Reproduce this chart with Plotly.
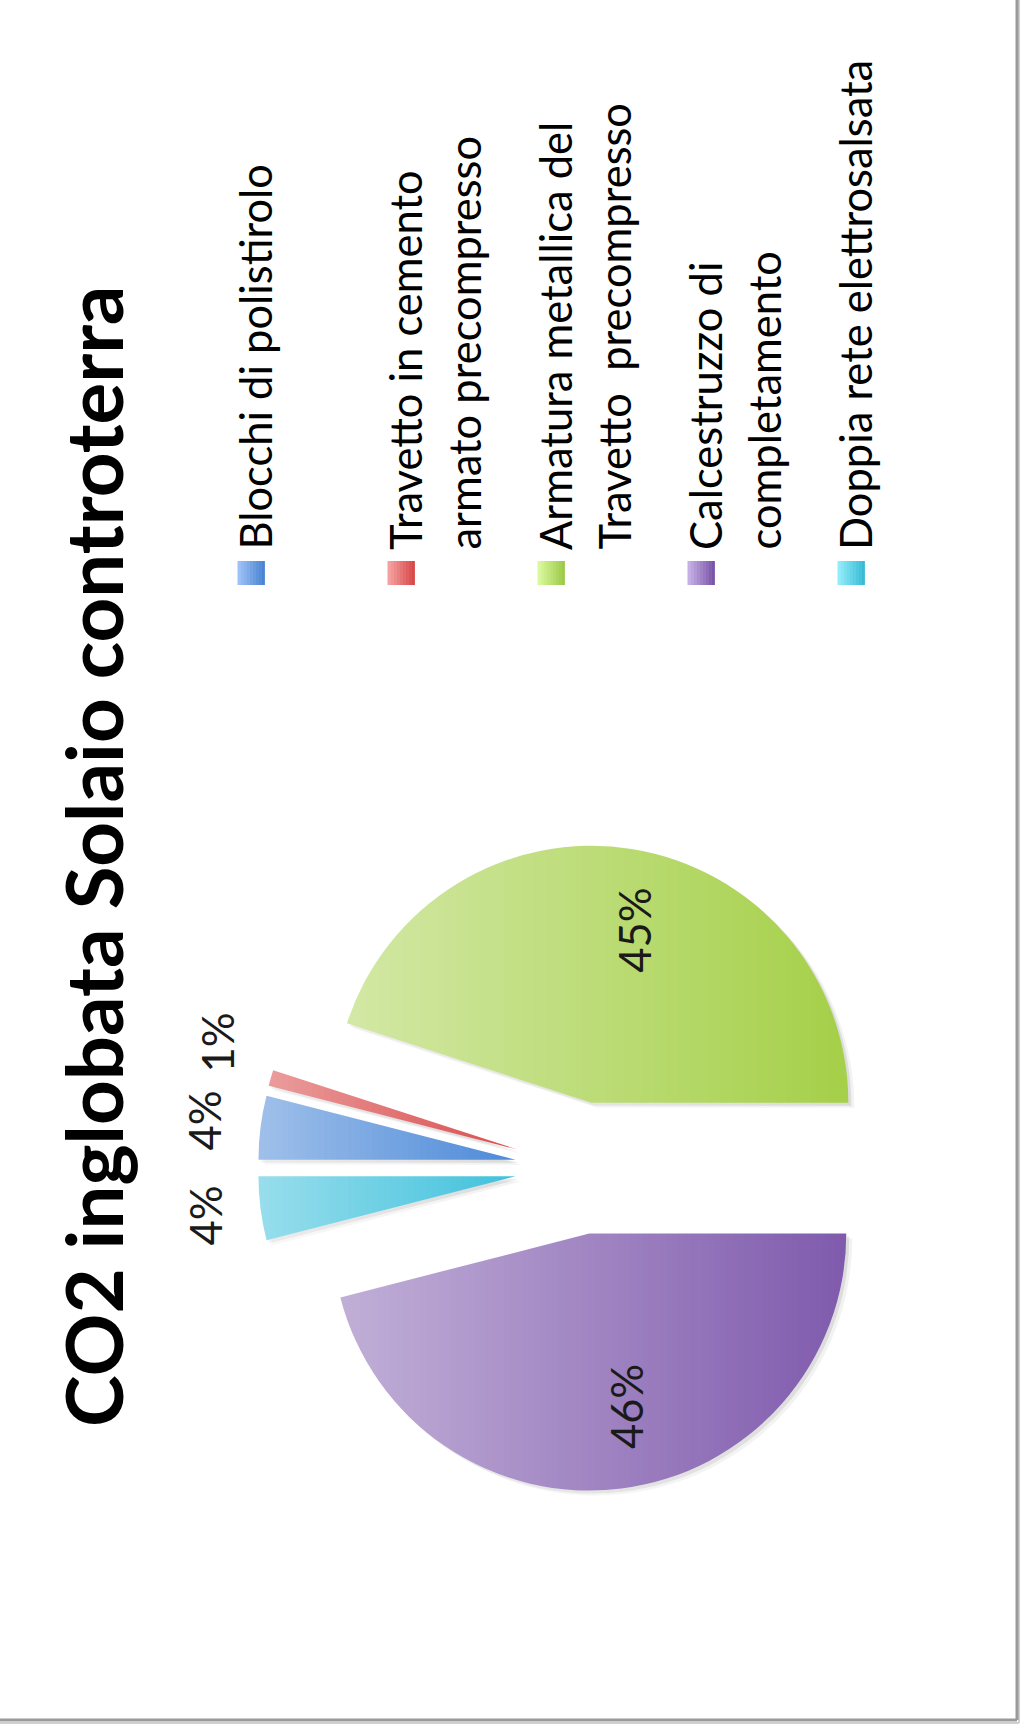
import math
import plotly.graph_objects as go

# --- data -------------------------------------------------------------
categories = [
    "Blocchi di polistirolo",
    "Travetto in cemento<br>armato precompresso",
    "Armatura metallica del<br>Travetto\u00a0 precompresso",
    "Calcestruzzo di<br>completamento",
    "Doppia rete elettrosalsata",
]
values = [4, 1, 45, 46, 4]
# slice colours (shaded end); a white sheen lightens their left side
colors = ["#4c89d8", "#da4c4c", "#a5d048", "#7f5aad", "#3fc1dc"]
# light / dark ends used for the legend swatch shading
colors_light = ["#9cc0f7", "#f5a0a0", "#daf99c", "#c5afe6", "#90ecfa"]
colors_dark = ["#4a84d2", "#d84848", "#9cca4a", "#7a56a8", "#38bcd6"]
title_text = "CO2 inglobata Solaio controterra"

# --- page geometry (pixels) --------------------------------------------
W, H = 1025, 1732
FONT = "Lato"
TEXT_SIZE = 43.5


def fx(px):
    return px / W


def fy(py):
    return 1 - py / H


def mix(c1, c2, t):
    a = [int(c1[i:i + 2], 16) for i in (1, 3, 5)]
    b = [int(c2[i:i + 2], 16) for i in (1, 3, 5)]
    return "#" + "".join(f"{round(x + (y - x) * t):02x}" for x, y in zip(a, b))


CX, CY = 581, 1168        # pie centre
R = 257                   # pie radius
PULL = 0.257              # explode fraction
ROT = 270                 # first slice starts at 9 o'clock
HB = R * (1 + PULL)


def pie_domain(dx=0, dy=0):
    return dict(x=[fx(CX - HB + dx), fx(CX + HB + dx)],
                y=[fy(CY + HB + dy), fy(CY - HB + dy)])


fig = go.Figure()

# soft drop shadow under the slices
for (dx, dy, a) in [(6, 5, 0.05), (3, 3, 0.09)]:
    fig.add_trace(go.Pie(
        values=values, labels=categories, sort=False, direction="clockwise",
        rotation=ROT, pull=[PULL] * len(values), domain=pie_domain(dx, dy),
        marker=dict(colors=[f"rgba(0,0,0,{a})"] * len(values), line=dict(width=0)),
        textinfo="none", hoverinfo="skip", showlegend=False,
    ))

fig.add_trace(go.Pie(
    values=values, labels=categories, sort=False, direction="clockwise",
    rotation=ROT, pull=[PULL] * len(values), domain=pie_domain(),
    marker=dict(colors=colors, line=dict(width=0)),
    textinfo="none", showlegend=False,
))

annotations = []
shapes = []

# white sheen: vertical bands of white, fading left -> right.  White on the
# white page is invisible, so only the slices pick up the shading.
STEP = 6


def sheen(x_from, x_to, x_light, x_dark, a0, y_ranges):
    x = x_from
    while x < x_to:
        xc = x + STEP / 2
        a = a0 * (x_dark - xc) / (x_dark - x_light)
        a = max(0.0, min(a0, a))
        if a > 0.004:
            for (ya, yb) in y_ranges(x):
                shapes.append(dict(
                    type="rect", xref="paper", yref="paper", layer="above",
                    x0=fx(x), x1=fx(x + STEP), y0=fy(yb), y1=fy(ya),
                    fillcolor=f"rgba(255,255,255,{a:.3f})", line=dict(width=0),
                ))
        x += STEP


# large slices
sheen(300, 864, 338, 852, 0.52,
      lambda x: [(816, 1050), (1250, 1504)] if x < 420
      else ([(816, 1105), (1250, 1504)] if x < 522 else [(816, 1504)]))
# small slices
sheen(252, 522, 262, 520, 0.46,
      lambda x: [(1050, 1250)] if x < 420 else [(1105, 1250)])

# percentage labels, rotated with the chart
total = sum(values)
cum = 0
inside, outside = [], []
for v in values:
    mid = math.radians(ROT + (cum + v / 2) * 360 / total)
    cum += v
    share = v / total
    if share >= 0.1:
        dist = PULL * R + 0.68 * R
        inside.append((CX + 15 + dist * math.sin(mid), CY - dist * math.cos(mid), share))
    else:
        dist = (1 + PULL) * R + 56
        outside.append([CX + dist * math.sin(mid), CY - dist * math.cos(mid), share])

# keep the small outside labels from overlapping (push upwards)
MIN_GAP = 78
outside.sort(key=lambda p: -p[1])
for k in range(1, len(outside)):
    if outside[k - 1][1] - outside[k][1] < MIN_GAP:
        outside[k][1] = outside[k - 1][1] - MIN_GAP

for px, py, share in inside + outside:
    annotations.append(dict(
        x=fx(px), y=fy(py), xref="paper", yref="paper",
        text=f"{round(share * 100)}%", showarrow=False, textangle=-90,
        font=dict(family=FONT, size=TEXT_SIZE, color="#1a1a1a"),
        xanchor="center", yanchor="middle",
    ))

# title
annotations.append(dict(
    x=fx(93), y=fy(857), xref="paper", yref="paper",
    text=f"<b>{title_text}</b>", showarrow=False, textangle=-90,
    font=dict(family=FONT, size=78, color="#000000"),
    xanchor="center", yanchor="middle",
))

# legend drawn as rotated entries
LEG_X0 = 251          # swatch centre of first entry
LEG_STEP = 150        # distance between entries
LINE_STEP = 58.5      # distance between wrapped lines
SW_Y0, SW_Y1 = 561, 585
SW_HALF = 13.5
TEXT_START = 552
N_STRIPES = 9
for i, name in enumerate(categories):
    sx = LEG_X0 + i * LEG_STEP
    left = sx - SW_HALF
    step = 2 * SW_HALF / N_STRIPES
    for s in range(N_STRIPES):
        shapes.append(dict(
            type="rect", xref="paper", yref="paper",
            x0=fx(left + s * step), x1=fx(left + (s + 1) * step + 0.4),
            y0=fy(SW_Y1), y1=fy(SW_Y0),
            fillcolor=mix(colors_light[i], colors_dark[i], s / (N_STRIPES - 1)),
            line=dict(width=0),
        ))
    for j, line in enumerate(name.split("<br>")):
        annotations.append(dict(
            x=fx(sx + 4 + j * LINE_STEP), y=fy(TEXT_START), xref="paper", yref="paper",
            text=line, showarrow=False, textangle=-90,
            font=dict(family=FONT, size=TEXT_SIZE, color="#000000"),
            xanchor="center", yanchor="bottom",
        ))

# chart-area frame (right and bottom edges)
shapes += [
    dict(type="line", xref="paper", yref="paper", x0=fx(1019), x1=fx(1019),
         y0=fy(0), y1=fy(1723), line=dict(color="#d0d0d0", width=2)),
    dict(type="line", xref="paper", yref="paper", x0=fx(0), x1=fx(1019),
         y0=fy(1723), y1=fy(1723), line=dict(color="#d0d0d0", width=2)),
    dict(type="line", xref="paper", yref="paper", x0=fx(1017), x1=fx(1017),
         y0=fy(0), y1=fy(1720), line=dict(color="#9a9a9a", width=3)),
    dict(type="line", xref="paper", yref="paper", x0=fx(0), x1=fx(1017),
         y0=fy(1720), y1=fy(1720), line=dict(color="#9a9a9a", width=3)),
]

fig.update_layout(
    width=W, height=H,
    margin=dict(l=0, r=0, t=0, b=0),
    paper_bgcolor="#ffffff",
    plot_bgcolor="#ffffff",
    showlegend=False,
    annotations=annotations,
    shapes=shapes,
)

fig.write_html("out.html")
